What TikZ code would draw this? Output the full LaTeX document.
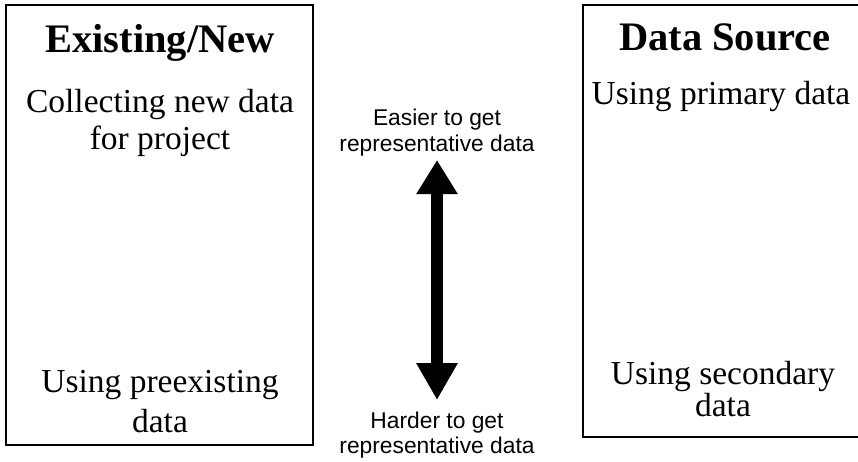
\documentclass[tikz,border=0pt]{standalone}
\usepackage{fontspec}
\setmainfont{Liberation Serif}
\newfontfamily\sansf{Liberation Sans}
\usetikzlibrary{arrows.meta}
\tikzset{
  panel/.style={draw=black, line width=1.3pt},
  title/.style={anchor=base, inner sep=0pt, font=\fontsize{40.5}{46}\selectfont\bfseries},
  item/.style={anchor=base, inner sep=0pt, font=\fontsize{33.5}{38}\selectfont},
  note/.style={anchor=base, inner sep=0pt, font=\sansf\fontsize{22.8}{26}\selectfont},
  bigarrow/.style={line width=12pt, {Triangle[width=39pt,length=37pt]}-{Triangle[width=39pt,length=34pt]}}
}
\begin{document}
\begin{tikzpicture}[x=1pt,y=-1pt]
\useasboundingbox (0,0) rectangle (858,461);
% left panel
\draw[panel] (6,5) rectangle (313,445);
\node[title] (t1) at (160,52) {Existing/New};
\node[item] (l1a) at (160,112) {Collecting new data};
\node[item] (l1b) at (160,149) {for project};
\node[item] (l2a) at (160,392) {Using preexisting};
\node[item] (l2b) at (160,432) {data};
% right panel
\begin{scope}
\clip (0,0) rectangle (858,461);
\draw[panel] (583,5) rectangle (867,437);
\end{scope}
\node[title] (t2) at (725,50) {Data Source};
\node[item] (r1) at (721,104) {Using primary data};
\node[item] (r2a) at (723,384) {Using secondary};
\node[item] (r2b) at (723,416) {data};
% middle
\node[note] (ea) at (437,125) {Easier to get};
\node[note] (eb) at (437,151) {representative data};
\node[note] (ha) at (437,428) {Harder to get};
\node[note] (hb) at (437,453) {representative data};
\coordinate (up) at (437,160);
\coordinate (dn) at (437,400);
\draw[bigarrow] (dn) -- (up);
\end{tikzpicture}
\end{document}
